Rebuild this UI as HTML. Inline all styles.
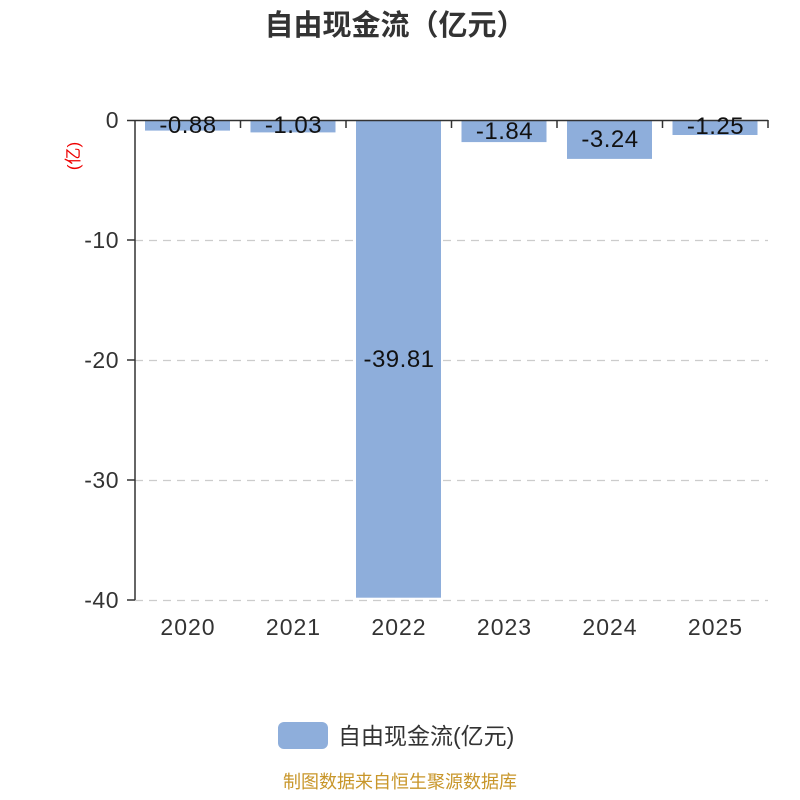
<!DOCTYPE html>
<html><head><meta charset="utf-8"><style>
html,body{margin:0;padding:0;background:#fff;}
svg{display:block;}
text{font-family:"Liberation Sans","Noto Sans CJK SC",sans-serif;}
</style></head><body>
<svg width="800" height="800" viewBox="0 0 800 800">
<text x="395" y="35" text-anchor="middle" font-size="29" font-weight="bold" fill="#333">自由现金流（亿元）</text>
<text transform="translate(79,156) rotate(-90)" text-anchor="middle" font-size="17" fill="#e00">(亿)</text>
<g stroke="#ccc" stroke-width="1.3" stroke-dasharray="8,6">
<line x1="135" y1="240.5" x2="768" y2="240.5"/>
<line x1="135" y1="360.5" x2="768" y2="360.5"/>
<line x1="135" y1="480.5" x2="768" y2="480.5"/>
<line x1="135" y1="600.5" x2="768" y2="600.5"/>
</g>
<g fill="#8eaedb">
<rect x="145" y="120" width="85" height="10.6"/>
<rect x="250.5" y="120" width="85" height="12.4"/>
<rect x="356" y="120" width="85" height="477.7"/>
<rect x="461.5" y="120" width="85" height="22.1"/>
<rect x="567" y="120" width="85" height="38.9"/>
<rect x="672.5" y="120" width="85" height="15"/>
</g>
<g stroke="#333" stroke-width="1.5" fill="none">
<line x1="135" y1="120" x2="135" y2="600"/>
<line x1="127" y1="120.5" x2="768" y2="120.5"/>
<line x1="127" y1="600" x2="135" y2="600"/>
<line x1="127" y1="240" x2="135" y2="240"/>
<line x1="127" y1="360" x2="135" y2="360"/>
<line x1="127" y1="480" x2="135" y2="480"/>
<line x1="240.5" y1="120" x2="240.5" y2="128"/>
<line x1="346" y1="120" x2="346" y2="128"/>
<line x1="451.5" y1="120" x2="451.5" y2="128"/>
<line x1="557" y1="120" x2="557" y2="128"/>
<line x1="662.5" y1="120" x2="662.5" y2="128"/>
<line x1="768" y1="120" x2="768" y2="128"/>
</g>
<g font-size="23" fill="#333" text-anchor="end" letter-spacing="0.5">
<text x="119" y="128">0</text>
<text x="119" y="248">-10</text>
<text x="119" y="368">-20</text>
<text x="119" y="488">-30</text>
<text x="119" y="608">-40</text>
</g>
<g font-size="23" fill="#333" text-anchor="middle" letter-spacing="1">
<text x="188" y="635">2020</text>
<text x="293.5" y="635">2021</text>
<text x="399" y="635">2022</text>
<text x="504.5" y="635">2023</text>
<text x="610" y="635">2024</text>
<text x="715.5" y="635">2025</text>
</g>
<g font-size="24" fill="#111" text-anchor="middle" letter-spacing="0.5">
<text x="188" y="133">-0.88</text>
<text x="293.5" y="133">-1.03</text>
<text x="399" y="367">-39.81</text>
<text x="504.5" y="139">-1.84</text>
<text x="610" y="147">-3.24</text>
<text x="715.5" y="134">-1.25</text>
</g>
<rect x="278" y="722" width="50" height="27" rx="6" fill="#8eaedb"/>
<text x="338" y="744" font-size="23" fill="#333">自由现金流(亿元)</text>
<text x="400" y="788" text-anchor="middle" font-size="18" fill="#c8962a">制图数据来自恒生聚源数据库</text>
</svg>
</body></html>
